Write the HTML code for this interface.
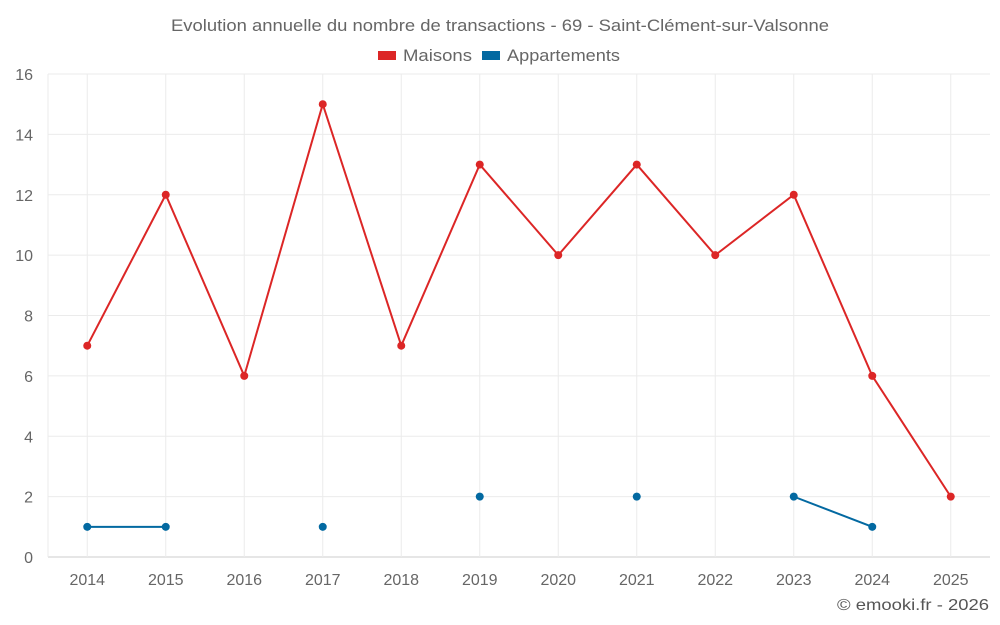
<!DOCTYPE html>
<html><head><meta charset="utf-8"><style>
html,body{margin:0;padding:0;background:#fff;}
svg{display:block;font-family:"Liberation Sans",sans-serif;}
</style></head><body>
<svg id="chart" width="1000" height="625">
<text x="500" y="31" text-anchor="middle" font-size="17" fill="#666" textLength="658" lengthAdjust="spacingAndGlyphs">Evolution annuelle du nombre de transactions - 69 - Saint-Clément-sur-Valsonne</text>
<g><rect x="378" y="51" width="18" height="9" fill="#dc2626"/><text x="403" y="61" font-size="17" fill="#666" textLength="69" lengthAdjust="spacingAndGlyphs">Maisons</text></g>
<g><rect x="482" y="51" width="18" height="9" fill="#0369a1"/><text x="507" y="61" font-size="17" fill="#666" textLength="113" lengthAdjust="spacingAndGlyphs">Appartements</text></g>
<g id="grid"></g><g id="axes"></g><g id="series"></g>
<text x="989" y="610" text-anchor="end" font-size="16" fill="#555" textLength="152" lengthAdjust="spacingAndGlyphs">© emooki.fr - 2026</text>
</svg>
<script>
const categories=["2014","2015","2016","2017","2018","2019","2020","2021","2022","2023","2024","2025"];
const maisons=[7,12,6,15,7,13,10,13,10,12,6,2];
const appartements=[1,1,null,1,null,2,null,2,null,2,1,null];
const yTicks=[0,2,4,6,8,10,12,14,16];
const NS="http://www.w3.org/2000/svg";
const L=48,R=990,T=74,B=557,yMax=16;
const band=(R-L)/categories.length;
const x=i=>L+band*(i+0.5);
const y=v=>B-(B-T)*v/yMax;
function mk(tag,attrs,parent){const e=document.createElementNS(NS,tag);for(const k in attrs)e.setAttribute(k,attrs[k]);parent.appendChild(e);return e;}
const grid=document.getElementById('grid'),axes=document.getElementById('axes'),series=document.getElementById('series');
yTicks.forEach(t=>{
 const g=mk('line',{x1:L,x2:R,y1:y(t),y2:y(t),stroke:t===0?'#ccc':'#ebebeb'},grid);
 
 
 const tx=mk('text',{x:33,y:y(t)+6,'text-anchor':'end','font-size':16,fill:'#666'},axes);
 tx.textContent=t;
 
 
});
mk('line',{x1:L,x2:L,y1:T,y2:B,stroke:'#ebebeb'},grid);
categories.forEach((c,i)=>{
 const g=mk('line',{x1:x(i),x2:x(i),y1:T,y2:B,stroke:'#ebebeb'},grid);
 
 
 const tx=mk('text',{x:x(i),y:585,'text-anchor':'middle','font-size':16,fill:'#666'},axes);
 tx.textContent=c;
 
 
});
function draw(vals,color,name){
 let seg=[];
 const flush=()=>{if(seg.length>1){const p=mk('polyline',{points:seg.join(' '),fill:'none',stroke:color,'stroke-width':2},series);
  
  }seg=[];};
 vals.forEach((v,i)=>{if(v==null){flush();return;}seg.push(x(i)+','+y(v));});
 flush();
 vals.forEach((v,i)=>{if(v==null)return;
  const c=mk('circle',{cx:x(i),cy:y(v),r:4,fill:color},series);
  
  });
}
draw(maisons,'#dc2626','maisons');
draw(appartements,'#0369a1','appartements');
</script>
</body></html>
